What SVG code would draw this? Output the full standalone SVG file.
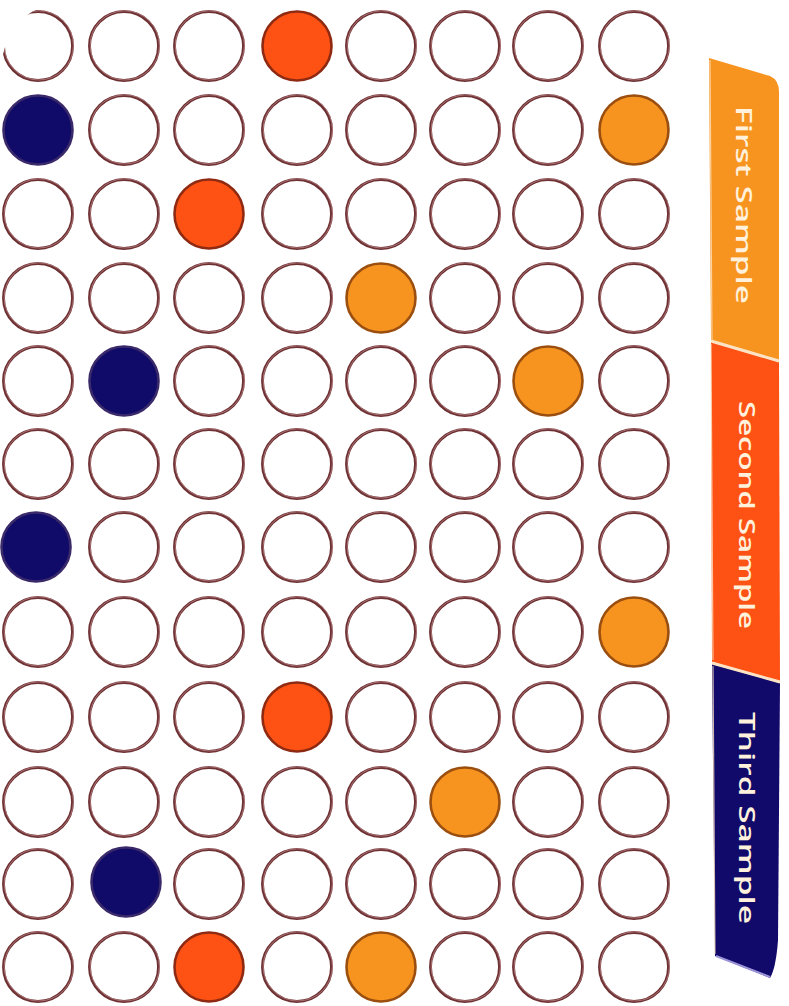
<svg xmlns="http://www.w3.org/2000/svg" xmlns:xlink="http://www.w3.org/1999/xlink" width="789" height="1006" viewBox="0 0 789 1006">
<style>
.w{fill:#ffffff;stroke:#6e3133;stroke-width:2.9}
.sk{fill:none;stroke:#c48e92;stroke-width:0.8;opacity:.85}
.o{fill:#f7941f;stroke:#9a4f10;stroke-width:2.6}
.r{fill:#fd5214;stroke:#8f2a12;stroke-width:2.6}
.n{fill:#100a68;stroke:#3a2a6a;stroke-width:2.6}
.lbl{font-family:"Open Sans","DejaVu Sans","Liberation Sans",sans-serif;font-weight:600;font-size:22px;fill:#fff1dc;text-anchor:middle;dominant-baseline:central}
.div{stroke:#fbe3c4;stroke-width:3;fill:none}
</style>
<defs>
<clipPath id="clip"><path d="M83,0 L706,0 Q789,0 789,83 L789,923 Q789,1006 706,1006 L20,1006 Q0,1006 0,986 L0,83 Q0,0 83,0 Z"/></clipPath>
<g id="ring"><circle class="w" r="34.5"/><circle class="sk" cx="0.8" cy="-0.6" r="34.6"/></g>
<g id="dot-o"><circle class="o" r="34.5"/></g>
<g id="dot-r"><circle class="r" r="34.5"/></g>
<g id="dot-n"><circle class="n" r="34.5"/></g>
</defs>
<rect width="789" height="1006" fill="#ffffff"/>
<g clip-path="url(#clip)">
<g id="plate">
<g id="row1">
<use href="#ring" x="38" y="46"/><use href="#ring" x="124" y="46"/><use href="#ring" x="209" y="46"/><use href="#dot-r" x="297" y="46"/><use href="#ring" x="381" y="46"/><use href="#ring" x="465" y="46"/><use href="#ring" x="548" y="46"/><use href="#ring" x="634" y="46"/>
</g>
<g id="row2">
<use href="#dot-n" x="38" y="130"/><use href="#ring" x="124" y="130"/><use href="#ring" x="209" y="130"/><use href="#ring" x="297" y="130"/><use href="#ring" x="381" y="130"/><use href="#ring" x="465" y="130"/><use href="#ring" x="548" y="130"/><use href="#dot-o" x="634" y="130"/>
</g>
<g id="row3">
<use href="#ring" x="38" y="214"/><use href="#ring" x="124" y="214"/><use href="#dot-r" x="209" y="214"/><use href="#ring" x="297" y="214"/><use href="#ring" x="381" y="214"/><use href="#ring" x="465" y="214"/><use href="#ring" x="548" y="214"/><use href="#ring" x="634" y="214"/>
</g>
<g id="row4">
<use href="#ring" x="38" y="298"/><use href="#ring" x="124" y="298"/><use href="#ring" x="209" y="298"/><use href="#ring" x="297" y="298"/><use href="#dot-o" x="381" y="298"/><use href="#ring" x="465" y="298"/><use href="#ring" x="548" y="298"/><use href="#ring" x="634" y="298"/>
</g>
<g id="row5">
<use href="#ring" x="38" y="381"/><use href="#dot-n" x="124" y="381"/><use href="#ring" x="209" y="381"/><use href="#ring" x="297" y="381"/><use href="#ring" x="381" y="381"/><use href="#ring" x="465" y="381"/><use href="#dot-o" x="548" y="381"/><use href="#ring" x="634" y="381"/>
</g>
<g id="row6">
<use href="#ring" x="38" y="464"/><use href="#ring" x="124" y="464"/><use href="#ring" x="209" y="464"/><use href="#ring" x="297" y="464"/><use href="#ring" x="381" y="464"/><use href="#ring" x="465" y="464"/><use href="#ring" x="548" y="464"/><use href="#ring" x="634" y="464"/>
</g>
<g id="row7">
<use href="#dot-n" x="36" y="547"/><use href="#ring" x="124" y="547"/><use href="#ring" x="209" y="547"/><use href="#ring" x="297" y="547"/><use href="#ring" x="381" y="547"/><use href="#ring" x="465" y="547"/><use href="#ring" x="548" y="547"/><use href="#ring" x="634" y="547"/>
</g>
<g id="row8">
<use href="#ring" x="38" y="632"/><use href="#ring" x="124" y="632"/><use href="#ring" x="209" y="632"/><use href="#ring" x="297" y="632"/><use href="#ring" x="381" y="632"/><use href="#ring" x="465" y="632"/><use href="#ring" x="548" y="632"/><use href="#dot-o" x="634" y="632"/>
</g>
<g id="row9">
<use href="#ring" x="38" y="717"/><use href="#ring" x="124" y="717"/><use href="#ring" x="209" y="717"/><use href="#dot-r" x="297" y="717"/><use href="#ring" x="381" y="717"/><use href="#ring" x="465" y="717"/><use href="#ring" x="548" y="717"/><use href="#ring" x="634" y="717"/>
</g>
<g id="row10">
<use href="#ring" x="38" y="802"/><use href="#ring" x="124" y="802"/><use href="#ring" x="209" y="802"/><use href="#ring" x="297" y="802"/><use href="#ring" x="381" y="802"/><use href="#dot-o" x="465" y="802"/><use href="#ring" x="548" y="802"/><use href="#ring" x="634" y="802"/>
</g>
<g id="row11">
<use href="#ring" x="38" y="884"/><use href="#dot-n" x="126" y="882"/><use href="#ring" x="209" y="884"/><use href="#ring" x="297" y="884"/><use href="#ring" x="381" y="884"/><use href="#ring" x="465" y="884"/><use href="#ring" x="548" y="884"/><use href="#ring" x="634" y="884"/>
</g>
<g id="row12">
<use href="#ring" x="38" y="967"/><use href="#ring" x="124" y="967"/><use href="#dot-r" x="209" y="967"/><use href="#ring" x="297" y="967"/><use href="#dot-o" x="381" y="967"/><use href="#ring" x="465" y="967"/><use href="#ring" x="548" y="967"/><use href="#ring" x="634" y="967"/>
</g>
</g>
<g id="banner-first">
<path d="M709,58 L770,76 Q779,80 779,92 L779,360 L711,340 Z" fill="#f7941f"/>
<text class="lbl" transform="translate(745,205) rotate(90)" textLength="198" lengthAdjust="spacingAndGlyphs">First Sample</text>
</g>
<g id="banner-second">
<path d="M711,342 L779,362 L780,681 L712,662 Z" fill="#fd5214"/>
<text class="lbl" transform="translate(748,515) rotate(90)" textLength="228" lengthAdjust="spacingAndGlyphs">Second Sample</text>
</g>
<g id="banner-third">
<path d="M712,664 L780,683 L778,940 Q776,968 770,978 L715,956 Z" fill="#110a6a"/>
<text class="lbl" transform="translate(748,818) rotate(90)" textLength="212" lengthAdjust="spacingAndGlyphs">Third Sample</text>
</g>
<g id="connectors">
<path class="div" d="M711,341 L779,361"/>
<path class="div" d="M712,663 L780,682"/>
<path d="M710,60 L712,340 M711,344 L713,660 M713,666 L715,954" stroke="#fbe0c0" stroke-width="1.2" fill="none" opacity="0.8"/>
<path d="M716,956 L770,977" stroke="#9b95d8" stroke-width="2" fill="none"/>
</g>
</g>
</svg>
